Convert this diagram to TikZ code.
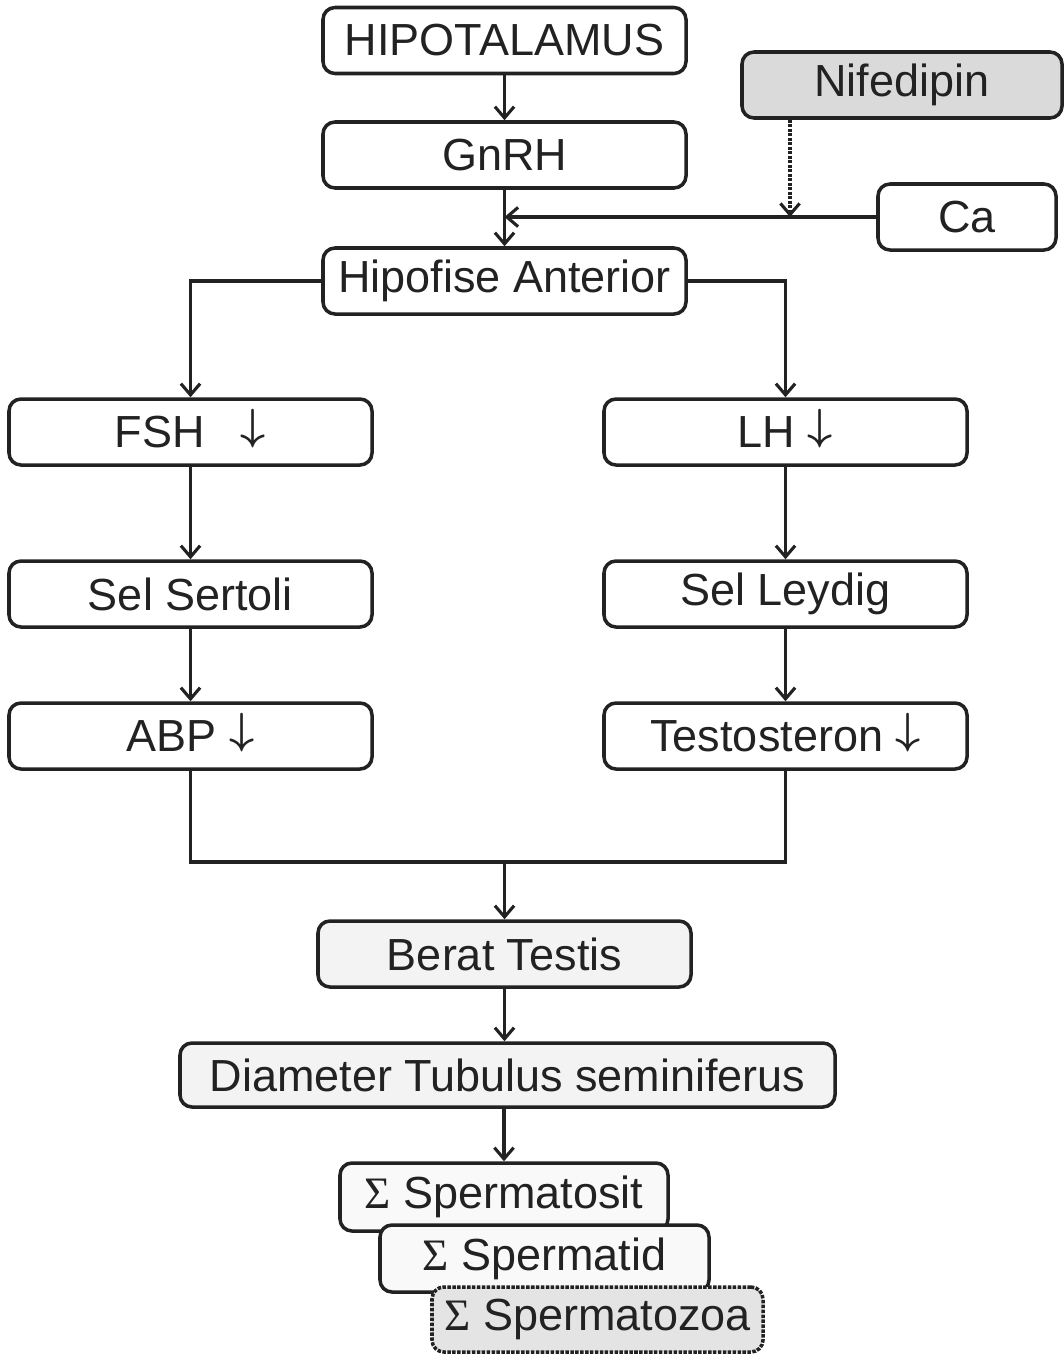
\RequirePackage{fix-cm}
\documentclass[tikz,border=0pt]{standalone}
\usepackage{fontspec}
\setmainfont{Liberation Sans}
\newfontfamily\sigmafont{Liberation Serif}
\usetikzlibrary{arrows.meta}
\definecolor{ink}{HTML}{222222}
\definecolor{drugfill}{HTML}{DADADA}
\definecolor{organfill}{HTML}{F3F3F3}
\definecolor{cellfill}{HTML}{F9F9F9}
\definecolor{spermfill}{HTML}{E4E4E4}
\newcommand{\down}{\smash{\raisebox{5.5pt}{\fontsize{31}{34}\selectfont\boldmath$\downarrow$}}}

\begin{document}
\begin{tikzpicture}[x=0.25mm, y=0.25mm, ink,
  font=\fontsize{32}{36}\selectfont,
  >={Straight Barb[length=2.8mm,width=4.8mm]},
  flow/.style={->, line width=2.2pt},
  link/.style={line width=2.2pt},
  box/.style={draw, line width=2.5pt, rounded corners=3mm, minimum height=16.5mm, inner sep=0pt},
  wide/.style={box, minimum width=90.75mm}]

\useasboundingbox (0,0) rectangle (1064,-1354);

% axis
\node[wide] (hypo) at (504.5,-40.5) {HIPOTALAMUS};
\node[wide] (gnrh) at (504.5,-155) {GnRH};
\node[wide] (hipo) at (504.5,-281) {Hipofise Anterior};
\draw[flow] (hypo) -- (gnrh);
\draw[flow] (gnrh) -- (hipo);

% drug and calcium
\node[box, fill=drugfill, minimum width=80mm] (nife) at (902,-85) {Nifedipin};
\node[box, minimum width=44.5mm] (ca) at (967,-217) {Ca};
\coordinate (join) at (gnrh.south |- ca);
\coordinate (block) at (790,-217);
\draw[flow] (ca) -- (join);
\draw[flow, densely dotted] (nife.south -| block) -- (block);

% hormones
\node[wide] (fsh) at (190.5,-432) {FSH\hspace{0.8em}\down};
\node[wide] (lh) at (785.5,-432) {LH \down};
\draw[flow] (hipo.west) -| (fsh.north);
\draw[flow] (hipo.east) -| (lh.north);

% cells
\node[wide] (sertoli) at (190.5,-594) {Sel Sertoli};
\node[wide] (leydig) at (785.5,-594) {Sel Leydig};
\node[wide] (abp) at (190.5,-736) {ABP \down};
\node[wide] (testo) at (785.5,-736) {Testosteron \down};
\draw[flow] (fsh) -- (sertoli);
\draw[flow] (sertoli) -- (abp);
\draw[flow] (lh) -- (leydig);
\draw[flow] (leydig) -- (testo);

% testis
\node[box, fill=organfill, minimum width=93.25mm] (berat) at (504.5,-954) {Berat Testis};
\node[box, fill=organfill, minimum width=163.75mm, minimum height=16mm] (diam) at (507.5,-1075)
  {Diameter Tubulus seminiferus};
\coordinate (merge) at (504.5,-862);
\draw[link] (abp.south) |- (merge) -| (testo.south);
\draw[flow] (merge) -- (berat);
\draw[flow] (berat.south) -- (berat.south |- diam.north);

% counts
\node[box, fill=cellfill, minimum width=82mm, minimum height=17mm] (sit) at (504,-1197)
  {{\sigmafont Σ} Spermatosit};
\node[box, fill=cellfill, minimum width=82.25mm, minimum height=16.75mm] (tid) at (544.5,-1258.5)
  {{\sigmafont Σ} Spermatid};
\node[box, densely dotted, fill=spermfill, minimum width=82.75mm, minimum height=16.25mm] (zoa) at (597.5,-1319.5)
  {{\sigmafont Σ} Spermatozoa};
\draw[flow] (diam.south -| sit.north) -- (sit.north);

\end{tikzpicture}
\end{document}
